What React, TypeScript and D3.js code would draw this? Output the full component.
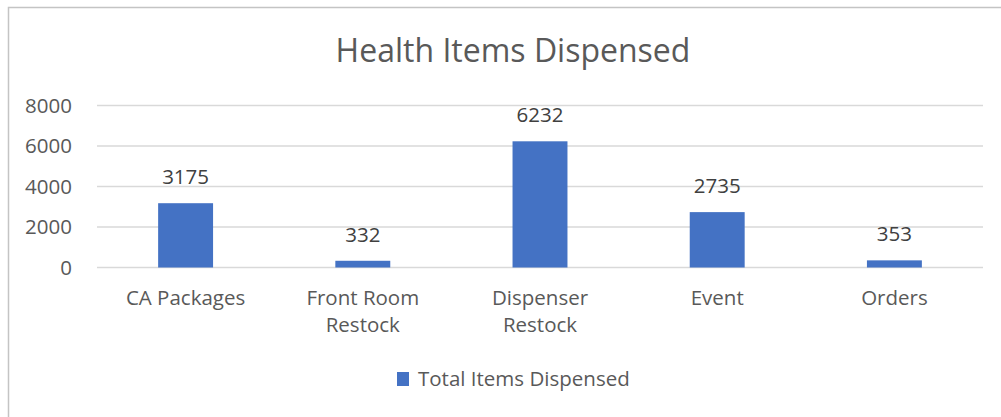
import { useRef, useEffect } from "react";
import * as d3 from "d3";

const categories = [["CA Packages"], ["Front Room", "Restock"], ["Dispenser", "Restock"], ["Event"], ["Orders"]];
const values = [3175, 332, 6232, 2735, 353];
const yTicks = [0, 2000, 4000, 6000, 8000];
const seriesName = "Total Items Dispensed";
const title = "Health Items Dispensed";

const W = 1001;
const H = 417;
const BAR = "#4472C4";
const TEXT = "#595959";
const FONT = "'Open Sans', 'Noto Sans', sans-serif";
const FS = 20.5;

export default function App() {
  const svgRef = useRef<SVGSVGElement>(null);

  useEffect(() => {
    if (!svgRef.current) return;
    const svg = d3.select(svgRef.current);
    svg.selectAll("*").remove();

    // chart frame (right and bottom edges fall outside the window)
    svg.append("rect")
      .attr("x", 8.5).attr("y", 7.5)
      .attr("width", W + 20).attr("height", H + 20)
      .attr("fill", "#fff")
      .attr("stroke", "#c4c4c4")
      .attr("stroke-width", 1.5);

    svg.append("text")
      .attr("x", 513).attr("y", 62)
      .attr("text-anchor", "middle")
      .attr("font-family", FONT)
      .attr("font-size", 32)
      .attr("fill", TEXT)
      .text(title);

    const idx = categories.map((_, i) => String(i));
    const x = d3.scaleBand().domain(idx).range([97, 983]).paddingInner(0.69).paddingOuter(0.345);
    const y = d3.scaleLinear().domain([0, 8000]).range([267.5, 105.5]);

    // gridlines
    svg.append("g").selectAll("line")
      .data(yTicks)
      .join("line")
      .attr("x1", 97).attr("x2", 983)
      .attr("y1", (d) => y(d)).attr("y2", (d) => y(d))
      .attr("stroke", "#d9d9d9")
      .attr("stroke-width", 1.5);

    // y tick labels
    svg.append("g").selectAll("text")
      .data(yTicks)
      .join("text")
      .attr("x", 72).attr("y", (d) => y(d) + 7)
      .attr("text-anchor", "end")
      .attr("font-family", FONT)
      .attr("font-size", FS)
      .attr("fill", TEXT)
      .text((d) => String(d));

    // bars
    svg.append("g").selectAll("rect")
      .data(values)
      .join("rect")
      .attr("x", (_, i) => x(String(i))!)
      .attr("width", x.bandwidth())
      .attr("y", (d) => y(d))
      .attr("height", (d) => y(0) - y(d))
      .attr("fill", BAR);

    // value labels
    svg.append("g").selectAll("text")
      .data(values)
      .join("text")
      .attr("x", (_, i) => x(String(i))! + x.bandwidth() / 2)
      .attr("y", (d) => y(d) - 19)
      .attr("text-anchor", "middle")
      .attr("font-family", FONT)
      .attr("font-size", FS)
      .attr("fill", "#404040")
      .text((d) => String(d));

    // category labels
    const cat = svg.append("g").selectAll("text")
      .data(categories)
      .join("text")
      .attr("x", (_, i) => x(String(i))! + x.bandwidth() / 2)
      .attr("y", 305)
      .attr("text-anchor", "middle")
      .attr("font-family", FONT)
      .attr("font-size", FS)
      .attr("fill", TEXT);
    cat.selectAll("tspan")
      .data((d) => d)
      .join("tspan")
      .attr("x", function () {
        return (this as SVGTSpanElement).parentElement!.getAttribute("x");
      })
      .attr("dy", (_, j) => (j === 0 ? 0 : 27))
      .text((d) => d);

    // legend
    svg.append("rect")
      .attr("x", 397).attr("y", 372)
      .attr("width", 12).attr("height", 14)
      .attr("fill", BAR);
    svg.append("text")
      .attr("x", 418).attr("y", 386)
      .attr("font-family", FONT)
      .attr("font-size", FS)
      .attr("fill", TEXT)
      .text(seriesName);
  }, []);

  return (
    <svg
      ref={svgRef}
      width={W}
      height={H}
      style={{ position: "absolute", left: 0, top: 0, display: "block" }}
    />
  );
}
